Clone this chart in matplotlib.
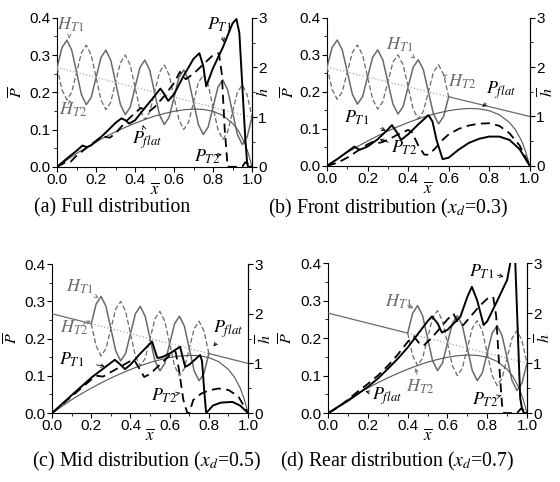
import matplotlib
matplotlib.use('Agg')
import matplotlib.pyplot as plt
import numpy as np
from matplotlib.ticker import MultipleLocator

plt.rcParams['font.family'] = 'Liberation Sans'
plt.rcParams['mathtext.fontset'] = 'stix'

# texture height curves (h), sampled every 0.025
H_X = [0.0, 0.025, 0.05, 0.075, 0.1, 0.125, 0.15, 0.175, 0.2, 0.225, 0.25, 0.275, 0.3, 0.325,
       0.35, 0.375, 0.4, 0.425, 0.45, 0.475, 0.5, 0.525, 0.55, 0.575, 0.6, 0.625, 0.65, 0.675,
       0.7, 0.725, 0.75, 0.775, 0.8, 0.825, 0.85, 0.875, 0.9, 0.925, 0.95, 0.975, 1.0]
H_T1 = [2.00, 2.40, 2.55, 2.35, 1.90, 1.45, 1.25, 1.40, 1.80, 2.20, 2.35, 2.15, 1.70, 1.25,
        1.05, 1.20, 1.60, 2.00, 2.15, 1.95, 1.50, 1.05, 0.85, 1.00, 1.40, 1.80, 1.95, 1.75,
        1.30, 0.85, 0.65, 0.80, 1.20, 1.60, 1.75, 1.55, 1.10, 0.65, 0.45, 0.60, 1.00]
H_T2 = [2.00, 1.55, 1.35, 1.50, 1.90, 2.30, 2.45, 2.25, 1.80, 1.35, 1.15, 1.30, 1.70, 2.10,
        2.25, 2.05, 1.60, 1.15, 0.95, 1.10, 1.50, 1.90, 2.05, 1.85, 1.40, 0.95, 0.75, 0.90,
        1.30, 1.70, 1.85, 1.65, 1.20, 0.75, 0.55, 0.70, 1.10, 1.50, 1.65, 1.45, 1.00]
FLAT_X = [0.0, 0.2, 0.4, 0.6, 0.8, 1.0]
FLAT_H = [2.0, 1.8, 1.6, 1.4, 1.2, 1.0]

# flat slider pressure
PF_X = [0, 0.05, 0.1, 0.15, 0.2, 0.25, 0.3, 0.35, 0.4, 0.45, 0.5, 0.55, 0.6, 0.65, 0.7,
        0.75, 0.8, 0.85, 0.9, 0.93, 0.96, 0.98, 1.0]
PF = [0, 0.018, 0.036, 0.052, 0.067, 0.081, 0.094, 0.106, 0.117, 0.127, 0.136, 0.143, 0.149,
      0.153, 0.155, 0.154, 0.149, 0.138, 0.117, 0.097, 0.067, 0.038, 0]

# (a) full distribution
PA_T1_X = [0, 0.05, 0.1, 0.13, 0.15, 0.17, 0.2, 0.25, 0.3, 0.33, 0.35, 0.37, 0.4, 0.45, 0.5,
           0.53, 0.55, 0.57, 0.6, 0.65, 0.7, 0.73, 0.75, 0.765, 0.8, 0.85, 0.9, 0.92, 0.935,
           0.95, 0.965, 0.975, 0.98, 1.0]
PA_T1 = [0, 0.022, 0.043, 0.057, 0.053, 0.056, 0.068, 0.092, 0.118, 0.13, 0.125, 0.116, 0.125,
         0.158, 0.19, 0.21, 0.195, 0.177, 0.195, 0.245, 0.29, 0.305, 0.27, 0.216, 0.265, 0.32,
         0.385, 0.397, 0.36, 0.22, 0.08, 0.01, 0, 0]
PA_T2_X = [0, 0.05, 0.07, 0.1, 0.15, 0.2, 0.23, 0.27, 0.3, 0.35, 0.4, 0.43, 0.47, 0.5, 0.55,
           0.6, 0.63, 0.66, 0.7, 0.75, 0.8, 0.83, 0.845, 0.86, 0.875, 0.95, 0.965, 0.98, 1.0]
PA_T2 = [0, 0.014, 0.014, 0.03, 0.05, 0.07, 0.082, 0.078, 0.09, 0.12, 0.145, 0.158, 0.148, 0.16,
         0.19, 0.225, 0.255, 0.235, 0.25, 0.275, 0.3, 0.305, 0.25, 0.1, 0, 0, 0.012, 0.008, 0]

# (b) front distribution
PB_T1_X = [0, 0.05, 0.1, 0.135, 0.16, 0.2, 0.25, 0.3, 0.32, 0.345, 0.365, 0.4, 0.45, 0.5, 0.52,
           0.54, 0.57, 0.6, 0.65, 0.7, 0.75, 0.8, 0.85, 0.9, 0.95, 1.0]
PB_T1 = [0, 0.018, 0.038, 0.052, 0.043, 0.052, 0.072, 0.098, 0.11, 0.09, 0.07, 0.085, 0.112,
         0.137, 0.12, 0.07, 0.018, 0.022, 0.044, 0.062, 0.073, 0.079, 0.079, 0.07, 0.045, 0]
PB_T2_X = [0, 0.05, 0.1, 0.15, 0.2, 0.23, 0.26, 0.3, 0.35, 0.4, 0.42, 0.45, 0.48, 0.5, 0.53,
           0.57, 0.6, 0.65, 0.7, 0.75, 0.8, 0.85, 0.9, 0.95, 1.0]
PB_T2 = [0, 0.008, 0.022, 0.04, 0.058, 0.066, 0.062, 0.07, 0.085, 0.097, 0.09, 0.055, 0.03, 0.03,
         0.045, 0.07, 0.085, 0.1, 0.109, 0.114, 0.115, 0.108, 0.088, 0.055, 0]

# (c) mid distribution
PC_T1_X = [0, 0.1, 0.2, 0.25, 0.3, 0.32, 0.345, 0.372, 0.4, 0.45, 0.51, 0.537, 0.56, 0.6, 0.653,
           0.679, 0.7, 0.755, 0.765, 0.776, 0.786, 0.8, 0.82, 0.86, 0.92, 0.96, 1.0]
PC_T1 = [0, 0.048, 0.095, 0.115, 0.135, 0.143, 0.132, 0.118, 0.13, 0.16, 0.192, 0.148, 0.15, 0.16,
         0.178, 0.124, 0.13, 0.156, 0.14, 0.062, 0, 0.008, 0.02, 0.028, 0.03, 0.02, 0]
PC_T2_X = [0, 0.1, 0.2, 0.23, 0.26, 0.3, 0.35, 0.4, 0.42, 0.45, 0.47, 0.5, 0.55, 0.6, 0.63, 0.645,
           0.67, 0.69, 0.7, 0.72, 0.76, 0.8, 0.85, 0.9, 0.95, 1.0]
PC_T2 = [0, 0.045, 0.09, 0.1, 0.098, 0.11, 0.125, 0.14, 0.142, 0.115, 0.097, 0.105, 0.13, 0.155,
         0.165, 0.124, 0.035, 0, 0, 0.035, 0.052, 0.061, 0.066, 0.062, 0.045, 0]

# (d) rear distribution
PD_T1_X = [0, 0.1, 0.2, 0.25, 0.3, 0.35, 0.4, 0.45, 0.5, 0.522, 0.55, 0.572, 0.6, 0.665, 0.7,
           0.723, 0.75, 0.782, 0.8, 0.84, 0.9, 0.925, 0.94, 0.955, 0.966, 0.975, 0.985, 1.0]
PD_T1 = [0, 0.033, 0.07, 0.092, 0.118, 0.145, 0.175, 0.21, 0.245, 0.258, 0.24, 0.215, 0.222,
         0.257, 0.31, 0.337, 0.3, 0.235, 0.245, 0.288, 0.355, 0.425, 0.42, 0.2, 0.04, 0.012, 0, 0]
PD_T2_X = [0, 0.05, 0.1, 0.15, 0.2, 0.25, 0.3, 0.35, 0.4, 0.43, 0.46, 0.48, 0.52, 0.56, 0.6, 0.63,
           0.655, 0.68, 0.72, 0.76, 0.8, 0.83, 0.845, 0.86, 0.875, 0.885, 0.95, 0.97, 0.985, 1.0]
PD_T2 = [0, 0.015, 0.036, 0.058, 0.078, 0.1, 0.126, 0.156, 0.19, 0.205, 0.185, 0.18, 0.2, 0.225,
         0.25, 0.265, 0.24, 0.235, 0.26, 0.285, 0.305, 0.31, 0.26, 0.13, 0.02, 0, 0, 0.012, 0.008, 0]

CAPTIONS = ['(a) Full distribution', r'(b) Front distribution ($x_d$=0.3)',
            r'(c) Mid distribution ($x_d$=0.5)', r'(d) Rear distribution ($x_d$=0.7)']
TEXTURE_RANGES = [(0.0, 1.0), (0.0, 0.6), (0.2, 0.8), (0.4, 1.0)]

GRAY = '#6a6a6a'
LIGHT = '#a8a8a8'

LBL = {
    'HT1': r'$H_{\mathit{T1}}$', 'HT2': r'$H_{\mathit{T2}}$',
    'PT1': r'$P_{\mathit{T1}}$', 'PT2': r'$P_{\mathit{T2}}$', 'Pflat': r'$P_{\mathit{flat}}$',
}

# label text position, arrow tip (both in x / P coords)
NOTES = [
    [('HT1', (0.07, 0.38), (0.06, 0.345), GRAY), ('HT2', (0.08, 0.152), (0.06, 0.18), GRAY),
     ('PT1', (0.835, 0.38), (0.856, 0.334), 'k'), ('Pflat', (0.462, 0.072), (0.44, 0.112), 'k'),
     ('PT2', (0.768, 0.028), (0.846, 0.033), 'k')],
    [('HT1', (0.356, 0.327), (0.435, 0.29), GRAY), ('HT2', (0.665, 0.228), (0.57, 0.245), GRAY),
     ('Pflat', (0.86, 0.205), (0.766, 0.159), 'k'), ('PT1', (0.145, 0.129), (0.29, 0.095), 'k'),
     ('PT2', (0.38, 0.048), (0.26, 0.072), 'k')],
    [('HT1', (0.143, 0.34), (0.236, 0.309), GRAY), ('HT2', (0.112, 0.228), (0.197, 0.248), GRAY),
     ('Pflat', (0.9, 0.224), (0.823, 0.179), 'k'), ('PT1', (0.1, 0.143), (0.27, 0.125), 'k'),
     ('PT2', (0.571, 0.046), (0.653, 0.054), 'k')],
    [('HT1', (0.355, 0.298), (0.43, 0.28), GRAY), ('HT2', (0.464, 0.071), (0.439, 0.12), GRAY),
     ('PT1', (0.774, 0.378), (0.883, 0.364), 'k'), ('Pflat', (0.296, 0.044), (0.187, 0.058), 'k'),
     ('PT2', (0.79, 0.035), (0.87, 0.047), 'k')],
]

PANELS = [
    (PA_T1_X, PA_T1, PA_T2_X, PA_T2),
    (PB_T1_X, PB_T1, PB_T2_X, PB_T2),
    (PC_T1_X, PC_T1, PC_T2_X, PC_T2),
    (PD_T1_X, PD_T1, PD_T2_X, PD_T2),
]

# axes boxes in figure fractions
BOXES = [[0.102, 0.654, 0.348, 0.309], [0.584, 0.656, 0.362, 0.307],
         [0.093, 0.143, 0.350, 0.309], [0.586, 0.143, 0.355, 0.311]]
CAP_POS = [(0.200, 0.568), (0.693, 0.568), (0.262, 0.043), (0.710, 0.043)]
# y-label offsets (axes fraction): left P, right h
YLAB_X = [(-0.205, 1.055), (-0.19, 1.085), (-0.205, 1.085), (-0.205, 1.085)]

fig = plt.figure(figsize=(5.6, 4.82), dpi=100)

hx = np.array(H_X)
fx = np.array(FLAT_X)
fh = np.array(FLAT_H)

for i, (t1x, t1, t2x, t2) in enumerate(PANELS):
    ax = fig.add_axes(BOXES[i])
    ax2 = ax.twinx()
    lo, hi = TEXTURE_RANGES[i]

    # textures and flat height on the right axis
    m = (hx >= lo - 1e-9) & (hx <= hi + 1e-9)
    ax2.plot(hx[m], np.array(H_T1)[m], color=GRAY, lw=1.1)
    ax2.plot(hx[m], np.array(H_T2)[m], color=GRAY, lw=0.9, dashes=(4, 2))
    inside = (fx >= lo - 1e-9) & (fx <= hi + 1e-9)
    ax2.plot(fx[inside], fh[inside], color=LIGHT, lw=0.9, ls=':')
    left = fx <= lo + 1e-9
    right = fx >= hi - 1e-9
    if left.sum() > 1:
        ax2.plot(fx[left], fh[left], color=GRAY, lw=0.9)
    if right.sum() > 1:
        ax2.plot(fx[right], fh[right], color=GRAY, lw=0.9)

    # pressures, scaled to the right axis (0.4 <-> 3)
    ax2.plot(PF_X, np.array(PF) * 7.5, color='#555555', lw=0.8)
    ax2.plot(t1x, np.array(t1) * 7.5, color='k', lw=1.4)
    ax2.plot(t2x, np.array(t2) * 7.5, color='k', lw=1.3, dashes=(5, 3))

    ax.set_xlim(0, 1)
    ax.set_ylim(0, 0.4)
    ax2.set_ylim(0, 3)
    ax2.set_xlim(0, 1)

    ax.xaxis.set_minor_locator(MultipleLocator(0.1))
    ax.yaxis.set_minor_locator(MultipleLocator(0.05))
    ax2.yaxis.set_major_locator(MultipleLocator(1))
    ax2.yaxis.set_minor_locator(MultipleLocator(0.5))
    ax.set_xticks([0, 0.2, 0.4, 0.6, 0.8, 1.0])
    ax.set_xticklabels(['0.0', '0.2', '0.4', '0.6', '0.8', '1.0'])
    ax.set_yticks([0, 0.1, 0.2, 0.3, 0.4])
    ax.set_yticklabels(['0.0', '0.1', '0.2', '0.3', '0.4'])

    for a in (ax, ax2):
        a.tick_params(which='major', direction='out', length=3.5, width=0.8,
                      labelsize=11, pad=1)
        a.tick_params(which='minor', direction='out', length=2, width=0.6)
        a.spines['top'].set_visible(False)
        for s in a.spines.values():
            s.set_linewidth(0.8)
    ax2.spines['left'].set_visible(False)
    ax2.spines['bottom'].set_visible(False)

    ax.set_ylabel(r'$\overline{P}$', fontsize=11.5, va='center')
    ax.yaxis.set_label_coords(YLAB_X[i][0], 0.5)
    ax2.set_ylabel(r'$\overline{h}$', fontsize=11.5, va='center')
    ax2.yaxis.set_label_coords(YLAB_X[i][1], 0.5)
    ax.set_xlabel(r'$\overline{x}$', fontsize=12, va='center')
    ax.xaxis.set_label_coords(0.5, -0.15)

    for key, txt, tip, col in NOTES[i]:
        ax2.annotate(LBL[key], xy=(tip[0], tip[1] * 7.5), xytext=(txt[0], txt[1] * 7.5),
                     fontsize=13, color=col, ha='center', va='center',
                     arrowprops=dict(arrowstyle='->', lw=0.6, color=col,
                                     shrinkA=7, shrinkB=0, mutation_scale=6))

    fig.text(CAP_POS[i][0], CAP_POS[i][1], CAPTIONS[i], fontsize=14.3,
             family='Liberation Serif', ha='center', va='center')

plt.savefig('out.png', dpi=100)
plt.close()
